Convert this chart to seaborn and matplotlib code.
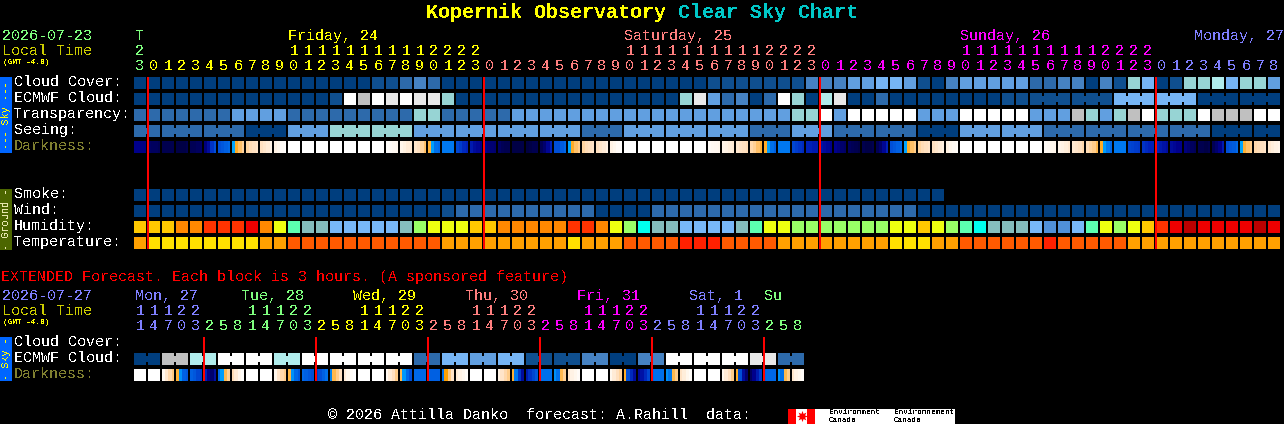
import numpy as np
import seaborn as sns
import matplotlib.pyplot as plt
from matplotlib.colors import ListedColormap, LinearSegmentedColormap
from matplotlib.patches import Rectangle

W, H = 1284, 424
NA = np.nan

# cloud-type colour codes 0..10
cloud_palette = ['#003E7E', '#0F4F8F', '#2D6AAB', '#4682C2', '#619FE0', '#76B5F5',
                 '#97D4D4', '#B0ECEC', '#E8E8E8', '#FFFFFF', '#C0C0C0']
# humidity / temperature colour codes 0..15
ground_palette = ['#BB0000', '#EE0000', '#FF3300', '#FF8800', '#FFC800', '#EEFF10',
                  '#99FF66', '#5CFFB0', '#00FFEE', '#85BEBE', '#78B8F8', '#5090D8',
                  '#FF2000', '#FF5A00', '#FFA000', '#FFE000']

cloud_cover = [0]*17 + [1, 1, 2, 3, 2] + [0]*19 + [1]*7 + [3, 3, 3, 4, 4, 5, 5, 4, 1, 0, 3, 4, 4, 4, 4, 4,
               2, 2, 3, 3, 0, 3, 1, 6, 5, 0, 1, 6, 6, 7, 5, 6, 6, 4]
ecmwf_cloud = [0]*14 + [1, 9, 10, 9, 8, 9, 8, 8, 6] + [0]*16 + [6, 8, 4, 2, 3, 0, 2, 9, 6, 0, 7, 8, 0, 0, 2] \
    + [0]*8 + [1]*8 + [5]*6 + [0]*6
transparency = [2]*7 + [4]*4 + [2]*9 + [6]*2 + [2]*5 + [4]*20 + [6, 6, 9, 4] + [9]*5 + [4]*3 + [9]*5 + [4]*3 \
    + [10, 6, 4, 6, 10, 9, 6, 6, 6, 9, 10, 10, 10, 9, 9]
seeing_values = [2, 2, 2, 0, 4, 6, 6, 4, 4, 4, 4, 2, 4, 4, 4, 2, 4, 2, 2, 0, 4, 4, 2, 2, 2, 2, 0, 0]
seeing_sizes = [2] + [3]*26 + [2]
smoke = [0]*58 + [NA]*24
wind = [0]*22 + [1] + [2]*10 + [0]*4 + [2]*19 + [0]*26
humidity = [4, 4, 4, 3, 3, 2, 2, 2, 1, 3, 5, 7, 9, 9, 10, 10, 10, 10, 10, 9, 6,
            5, 5, 5, 4, 4, 3, 3, 3, 3, 3, 2, 2, 3, 5, 6, 8, 9, 9, 10, 10, 10, 10, 9, 7, 5, 5,
            6, 6, 6, 6, 6, 6, 6, 5, 5, 4, 5, 6, 7, 8, 9, 9, 9, 10, 11, 11, 10, 7, 5, 6, 5, 4,
            2, 1, 0, 1, 1, 1, 1, 0, 1]
temperature = [14] + [15]*8 + [14]*2 + [13]*11 + [14]*9 + [15] + [14]*3 + [13]*4 + [12]*3 + [13]*4 \
    + [14]*8 + [15]*3 + [14]*2 + [13]*6 + [12] + [13]*5 + [14]*11

# darkness: 0 = deepest night, 1 = full day, four readings across each block
white = [1, 1, 1, 1]
darkness = [
    [.10, .10, .09, .09], [.05, .04, .04, .03], [.02, .02, .02, .02], [.01, .01, .01, .02],
    [.03, .03, .04, .05], [.08, .14, .24, .30], [.30, .32, .34, .36], [.47, .53, .58, .65],
    [.66, .70, .72, .75], [.72, .76, .80, .85], [.85, .90, .95, .98], white, white, white, white,
    white, white, white, [.97, .95, .93, .91], [.88, .84, .80, .78], [.76, .72, .66, .58],
    [.54, .46, .38, .36], [.40, .40, .40, .40], [.28, .26, .22, .20], [.18, .14, .12, .10],
    [.10, .08, .07, .06], [.05, .03, .02, .02], [.01, .01, .01, .01], [.00, .01, .02, .02],
    [.03, .06, .12, .20], [.30, .30, .33, .36], [.47, .53, .58, .62], [.66, .70, .72, .75],
    [.72, .76, .80, .85], [.85, .90, .95, .98], white, white, white, white, white, white,
    [.95, .93, .92, .90], [.87, .85, .82, .80], [.78, .74, .72, .70], [.68, .64, .58, .54],
    [.53, .46, .38, .34], [.40, .40, .40, .40], [.28, .26, .24, .22], [.20, .20, .18, .18],
    [.16, .14, .12, .10], [.10, .08, .06, .05], [.04, .03, .02, .01], [.02, .01, .01, .02],
    [.03, .06, .12, .20], [.30, .32, .34, .36], [.47, .53, .58, .62], [.66, .70, .72, .75],
    [.72, .76, .80, .84], [.84, .90, .94, .97], white, white, white, white, white, white,
    [.95, .93, .90, .88], [.87, .85, .82, .78], [.78, .75, .72, .68], [.70, .66, .62, .56],
    [.53, .46, .40, .36], [.40, .40, .40, .40], [.28, .27, .26, .25], [.24, .22, .20, .20],
    [.20, .18, .16, .14], [.14, .12, .10, .10], [.08, .06, .04, .03], [.02, .02, .01, .02],
    [.03, .06, .10, .18], [.30, .32, .33, .36], [.47, .54, .58, .62], [.68, .70, .72, .75],
    [.78, .82, .85, .88],
]

# extended forecast: 24 cloud blocks, each two cells wide
ecmwf_ext = [0, 10, 7, 9, 9, 7, 9, 9, 9, 9, 2, 5, 4, 5, 1, 1, 3, 0, 3, 9, 9, 9, 8, 2]
darkness_ext = [
    white, white, [.92, .78, .68, .60], [.54, .44, .34, .32], [.34, .32, .28, .26], [.20, .10, .06, .15],
    [.36, .46, .56, .64], [.70, .80, .90, .97], white, white, [.90, .75, .68, .62], [.55, .44, .36, .32],
    [.36, .34, .32, .30], [.26, .30, .34, .38], [.42, .56, .62, .72], [.80, .90, .96, 1], white, white,
    [.92, .80, .72, .62], [.56, .45, .36, .30], [.36, .36, .36, .36], [.36, .34, .34, .34], [.38, .50, .60, .74],
    [.80, .85, .90, .96], white, white, [.85, .75, .68, .62], [.54, .40, .25, .14], [.18, .24, .28, .32],
    [.38, .38, .38, .38], [.44, .38, .56, .64], [.76, .85, .90, .95], white, white, [.90, .80, .72, .66],
    [.53, .30, .22, .14], [.12, .16, .22, .28], [.36, .38, .38, .38], [.44, .40, .56, .62], [.74, .82, .90, .96],
    white, white, [.90, .80, .72, .62], [.53, .30, .14, .06], [.04, .10, .18, .26], [.34, .36, .36, .36],
    [.44, .38, .56, .62], [.76, .85, .90, .95],
]

row_labels = ['Cloud Cover:', 'ECMWF Cloud:', 'Transparency:', 'Seeing:', 'Darkness:']
ground_labels = ['Smoke:', 'Wind:', 'Humidity:', 'Temperature:']
ext_labels = ['Cloud Cover:', 'ECMWF Cloud:', 'Darkness:']

top_hours = [23] + list(range(24))*3 + list(range(9))
top_days = [0] + [1]*24 + [2]*24 + [3]*24 + [4]*9
day_colors = ['#7FFF7F', '#FFFF00', '#FF7F7F', '#FF00FF', '#7F7FFF']
top_day_labels = [('Friday, 24', 288, 1), ('Saturday, 25', 624, 2), ('Sunday, 26', 960, 3), ('Monday, 27', 1194, 4)]

ext_hours = [11, 14, 17, 20, 23] + [2, 5, 8, 11, 14, 17, 20, 23]*5 + [2, 5, 8]
ext_days = [4]*5 + [0]*8 + [1]*8 + [2]*8 + [3]*8 + [4]*8 + [0]*3
ext_day_labels = [('Mon, 27', 135, 4), ('Tue, 28', 241, 0), ('Wed, 29', 353, 1), ('Thu, 30', 465, 2),
                  ('Fri, 31', 577, 3), ('Sat, 1', 689, 4), ('Su', 764, 0)]

midnights = [1, 25, 49, 73]
midnights_ext = [5, 13, 21, 29, 37, 45]

sns.set_style('white')
plt.rcParams['font.family'] = ['Liberation Mono', 'DejaVu Sans Mono']
# the original is a thin aliased bitmap font
plt.rcParams['text.antialiased'] = False

CELL = 14
LEFT = 133
cloud_cmap = ListedColormap(cloud_palette)
ground_cmap = ListedColormap(ground_palette)
dark_cmap = LinearSegmentedColormap.from_list('darkness', [
    (0.00, '#000040'), (0.10, '#00008C'), (0.20, '#0020B8'), (0.30, '#0050D8'), (0.40, '#0078F0'),
    (0.48, '#00AAFF'), (0.50, '#FFA000'), (0.60, '#FFC880'), (0.72, '#FFE0C0'), (0.86, '#FFF3E6'),
    (1.00, '#FFFFFF')])

fig = plt.figure(figsize=(W/100, H/100), dpi=100, facecolor='black')


def pixel_axes(x, y, w, h):
    ax = fig.add_axes([x/W, 1 - (y + h)/H, w/W, h/H])
    ax.set_facecolor('black')
    return ax


def draw_row(values, top, cmap, bridges=()):
    # 14px heatmap cells with a 2px black grid leave the 12px blocks
    n = len(values)
    ax = pixel_axes(LEFT, top - 1, CELL*n, CELL)
    sns.heatmap(np.array([values], dtype=float), ax=ax, cmap=cmap, vmin=-0.5, vmax=cmap.N - 0.5, cbar=False,
                linewidths=1.44, linecolor='black', xticklabels=False, yticklabels=False, antialiased=False)
    # narrow joins between the cells of one forecast block
    for i in bridges:
        ax.hlines(0.5, i + 1 - 0.15, i + 1 + 0.15, color=cloud_palette[int(values[i])], lw=4.3, zorder=5,
                  antialiased=False)
    return ax


def block_bridges(sizes, first=0):
    joins = []
    start = first
    for size in sizes:
        joins += list(range(start, start + size - 1))
        start += size
    return joins


def draw_darkness(samples, top):
    n = len(samples)
    ax = pixel_axes(LEFT, top, CELL*n, 12)
    sns.heatmap(np.array(samples).ravel()[None, :], ax=ax, cmap=dark_cmap, vmin=0, vmax=1, cbar=False,
                xticklabels=False, yticklabels=False, antialiased=False)
    ax.vlines(np.arange(0, 4*n + 1, 4), 0, 1, color='black', lw=1.44, zorder=5, antialiased=False)


draw_row(cloud_cover, 77, cloud_cmap)
draw_row(ecmwf_cloud, 93, cloud_cmap, block_bridges([3]*6, first=64))
draw_row(transparency, 109, cloud_cmap)
draw_row(np.repeat(seeing_values, seeing_sizes), 125, cloud_cmap, block_bridges(seeing_sizes))
draw_darkness(darkness, 141)
draw_row(smoke, 189, cloud_cmap)
draw_row(wind, 205, cloud_cmap)
draw_row(humidity, 221, ground_cmap)
draw_row(temperature, 237, ground_cmap)
draw_row(np.repeat(ecmwf_ext, 2), 353, cloud_cmap, block_bridges([2]*24))
draw_darkness(darkness_ext, 369)

# overlay in pixel coordinates for the texts, tabs and midnight lines
over = fig.add_axes([0, 0, 1, 1], zorder=10)
over.set_xlim(0, W)
over.set_ylim(H, 0)
over.axis('off')
over.patch.set_visible(False)


def put(x, y, s, color='white', size=10.8, **kw):
    kw.setdefault('va', 'center')
    over.text(x, y + 1, s, color=color, fontsize=size, **kw)


put(426, 12, 'Kopernik Observatory', '#FFFF00', 14.4, weight='bold')
put(678, 12, 'Clear Sky Chart', '#00C8C8', 14.4, weight='bold')

put(2, 35, '2026-07-23', day_colors[0])
put(2, 50, 'Local Time', '#CCCC00')
put(3, 61, '(GMT -4.0)', '#FFFF00', 5.6, weight='bold')
for text, x, day in top_day_labels:
    put(x, 35, text, day_colors[day])
put(140, 35, 'T', day_colors[0], ha='center')
for i, (hour, day) in enumerate(zip(top_hours, top_days)):
    cx = LEFT + CELL*i + 7
    if hour >= 10:
        put(cx, 50, str(hour // 10), day_colors[day], ha='center')
    put(cx, 65, str(hour % 10), day_colors[day], ha='center')

for label, y in zip(row_labels, [81, 97, 113, 129, 145]):
    put(14, y, label, '#808030' if label == 'Darkness:' else 'white')
for label, y in zip(ground_labels, [193, 209, 225, 241]):
    put(14, y, label)

put(1, 276, 'EXTENDED Forecast. Each block is 3 hours. (A sponsored feature)', '#FF0000')
put(2, 295, '2026-07-27', day_colors[4])
put(2, 310, 'Local Time', '#CCCC00')
put(3, 321, '(GMT -4.0)', '#FFFF00', 5.6, weight='bold')
for text, x, day in ext_day_labels:
    put(x, 295, text, day_colors[day])
for i, (hour, day) in enumerate(zip(ext_hours, ext_days)):
    cx = LEFT + CELL*i + 7
    if hour >= 10:
        put(cx, 310, str(hour // 10), day_colors[day], ha='center')
    put(cx, 325, str(hour % 10), day_colors[day], ha='center')
for label, y in zip(ext_labels, [341, 357, 373]):
    put(14, y, label, '#808030' if label == 'Darkness:' else 'white')

# side tabs
for top, bottom, color, text, tcolor, size in [(77, 153, '#0066FF', '--- Sky ---', '#FFFF00', 7.4),
                                                (189, 250, '#4C6600', '- Ground -', '#E8E8B0', 7.4),
                                                (337, 381, '#0066FF', '- Sky -', '#FFFF00', 7.4)]:
    over.add_patch(Rectangle((0, top), 12, bottom - top, color=color, lw=0))
    put(6, (top + bottom)/2 - 1, text, tcolor, size, rotation=90, ha='center')

for i in midnights:
    over.vlines(LEFT + CELL*i + 1, 77, 249, color='#FF0000', lw=1.44, antialiased=False)
for i in midnights_ext:
    over.vlines(LEFT + CELL*i + 1, 337, 381, color='#FF0000', lw=1.44, antialiased=False)

put(328, 414, '\u00a9 2026 Attilla Danko  forecast: A.Rahill  data:')

# Environment Canada logo
over.add_patch(Rectangle((788, 409), 167, 15, color='white', lw=0))
over.add_patch(Rectangle((788, 409), 8, 15, color='#FF0000', lw=0))
over.add_patch(Rectangle((807, 409), 8, 15, color='#FF0000', lw=0))
over.plot([801.5], [416], marker=(8, 1, 0), ms=8, color='#FF0000', mew=0)
put(829, 412, 'Environment', 'black', 5.6)
put(829, 419, 'Canada', 'black', 5.6)
put(894, 412, 'Environnement', 'black', 5.6)
put(894, 419, 'Canada', 'black', 5.6)

fig.savefig('out.png', dpi=100, facecolor='black')
